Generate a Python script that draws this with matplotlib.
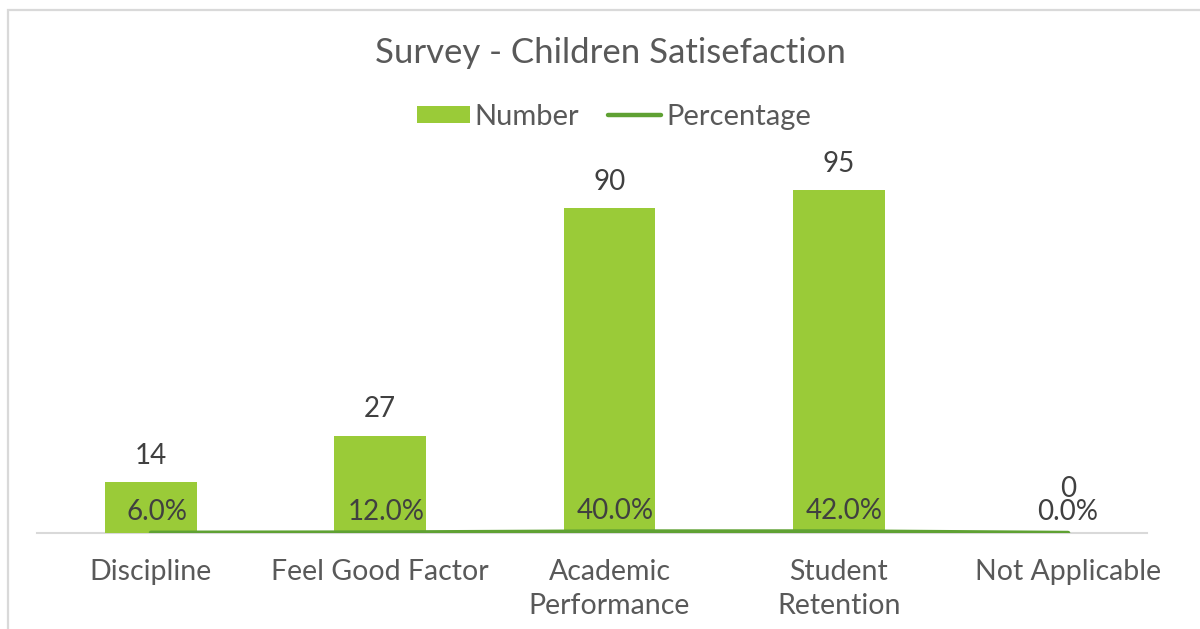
import matplotlib
matplotlib.use("Agg")
import matplotlib.pyplot as plt
from matplotlib.patches import Rectangle, Patch
from matplotlib.lines import Line2D

categories = ["Discipline", "Feel Good Factor", "Academic\nPerformance", "Student\nRetention", "Not Applicable"]
numbers = [14, 27, 90, 95, 0]
percentages = [0.06, 0.12, 0.40, 0.42, 0.0]
title = "Survey - Children Satisefaction"

plt.rcParams['font.family'] = ['Lato', 'DejaVu Sans']

W, H = 1200, 629
fig = plt.figure(figsize=(W / 100, H / 100), dpi=100)
fig.patch.set_facecolor("white")

# outer chart border
fig.add_artist(Rectangle((8 / W, -0.1), 1.2, 1 - 10 / H + 0.1, transform=fig.transFigure,
                         fill=False, edgecolor="#D9D9D9", linewidth=1.6))

ax = fig.add_axes([37 / W, 1 - 533 / H, 1110 / W, 361 / H])
ax.set_facecolor("none")
x = list(range(len(categories)))
bar_color = "#9ACB38"
line_color = "#5FA133"
bars = ax.bar(x, numbers, width=0.4, color=bar_color, zorder=2)
ax.plot(x, percentages, color=line_color, linewidth=3.2, solid_capstyle="round", zorder=4)

ax.set_xlim(-0.497, 4.344)
ax.set_ylim(0, 100)
for s in ["left", "right", "top"]:
    ax.spines[s].set_visible(False)
ax.spines["bottom"].set_color("#D9D9D9")
ax.spines["bottom"].set_linewidth(1.5)
ax.spines["bottom"].set_zorder(1)
ax.set_yticks([])
ax.set_xticks(x)
ax.set_xticklabels(categories, fontsize=20.5, color="#595959", linespacing=1.4)
ax.tick_params(axis="x", length=0, pad=18.5)

for xi, v in zip(x, numbers):
    off = 32 if v == 0 else 19
    ax.annotate(f"{v}", (xi, v), xytext=(0, off), textcoords="offset points",
                ha="center", va="center", fontsize=20, color="#404040", zorder=5)
for xi, p in zip(x, percentages):
    dx = 0 if xi == len(categories) - 1 else 4
    ax.annotate(f"{p * 100:.1f}%", (xi, p), xytext=(dx, 15), textcoords="offset points",
                ha="center", va="center", fontsize=20, color="#404040", zorder=5)

fig.text(610 / W, 1 - 53 / H, title, ha="center", va="center", fontsize=25, color="#595959")

handles = [Patch(facecolor=bar_color, edgecolor="none"),
           Line2D([0], [0], color=line_color, linewidth=3.2, solid_capstyle="round")]
fig.legend(handles, ["Number", "Percentage"], loc="center", bbox_to_anchor=(614 / W, 1 - 117 / H),
           ncol=2, frameon=False, fontsize=21, labelcolor="#595959",
           handlelength=1.8, handleheight=0.55, handletextpad=0.17, columnspacing=1.0)

fig.savefig("out.png", dpi=100, facecolor="white")
